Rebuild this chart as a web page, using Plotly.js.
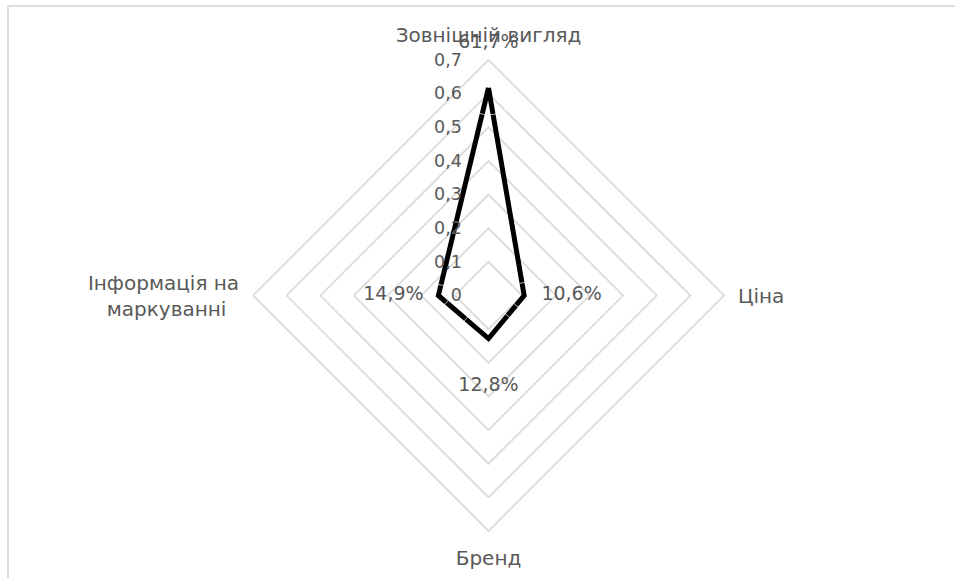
<!DOCTYPE html>
<html><head><meta charset="utf-8">
<script src="https://cdn.plot.ly/plotly-3.0.1.min.js"></script>
<style>
body{margin:0;background:#fff}
#chart{width:955px;height:578px}
#frame{position:absolute;left:7px;top:5px;width:1000px;height:1000px;border-top:2px solid #dcdcdc;border-left:2px solid #dcdcdc;pointer-events:none}
</style>
</head><body>
<div id="chart"></div><div id="frame"></div>
<script>
const categories = ['Зовнішній вигляд', 'Ціна', 'Бренд', 'Інформація на<br>маркуванні\u00A0\u00A0'];
const values = [0.617, 0.106, 0.128, 0.149];
const valueLabels = ['61,7%', '10,6%', '12,8%', '14,9%'];
const radialTicks = [0, 0.1, 0.2, 0.3, 0.4, 0.5, 0.6, 0.7];

const FONT = '"DejaVu Sans", sans-serif';
const GRAY = '#595959';

const lineTrace = {
  type: 'scatterpolar',
  r: values.concat([values[0]]),
  theta: categories.concat([categories[0]]),
  mode: 'lines',
  line: {color: '#000000', width: 5},
  hoverinfo: 'skip',
  showlegend: false
};

const labelTrace = {
  type: 'scatterpolar',
  r: values,
  theta: categories,
  mode: 'markers+text',
  text: valueLabels,
  textposition: ['top center', 'middle right', 'bottom center', 'middle left'],
  textfont: {family: FONT, size: 19, color: GRAY},
  marker: {size: [54, 26, 60, 22], color: 'rgba(0,0,0,0)'},
  hoverinfo: 'skip',
  showlegend: false
};

const layout = {
  width: 955, height: 578,
  margin: {l: 31, r: 9, t: 60, b: 47},
  paper_bgcolor: '#ffffff',
  separators: ', ',
  font: {family: FONT, size: 18, color: GRAY},
  showlegend: false,
  polar: {
    gridshape: 'linear',
    bgcolor: 'rgba(0,0,0,0)',
    radialaxis: {
      range: [0, 0.7],
      tickvals: radialTicks,
      angle: 90,
      tickangle: 90,
      side: 'counterclockwise',
      showline: false,
      gridcolor: '#d9d9d9',
      gridwidth: 1.75,
      ticks: 'outside',
      ticklen: 20,
      tickcolor: 'rgba(0,0,0,0)',
      tickfont: {family: FONT, size: 17.5, color: GRAY}
    },
    angularaxis: {
      rotation: 90,
      direction: 'clockwise',
      showgrid: false,
      showline: true,
      linecolor: '#d9d9d9',
      linewidth: 1.75,
      ticks: 'outside',
      ticklen: 9,
      tickcolor: 'rgba(0,0,0,0)',
      tickfont: {family: FONT, size: 20, color: GRAY}
    }
  }
};

Plotly.newPlot('chart', [lineTrace, labelTrace], layout, {displayModeBar: false, staticPlot: true});
</script>
</body></html>
